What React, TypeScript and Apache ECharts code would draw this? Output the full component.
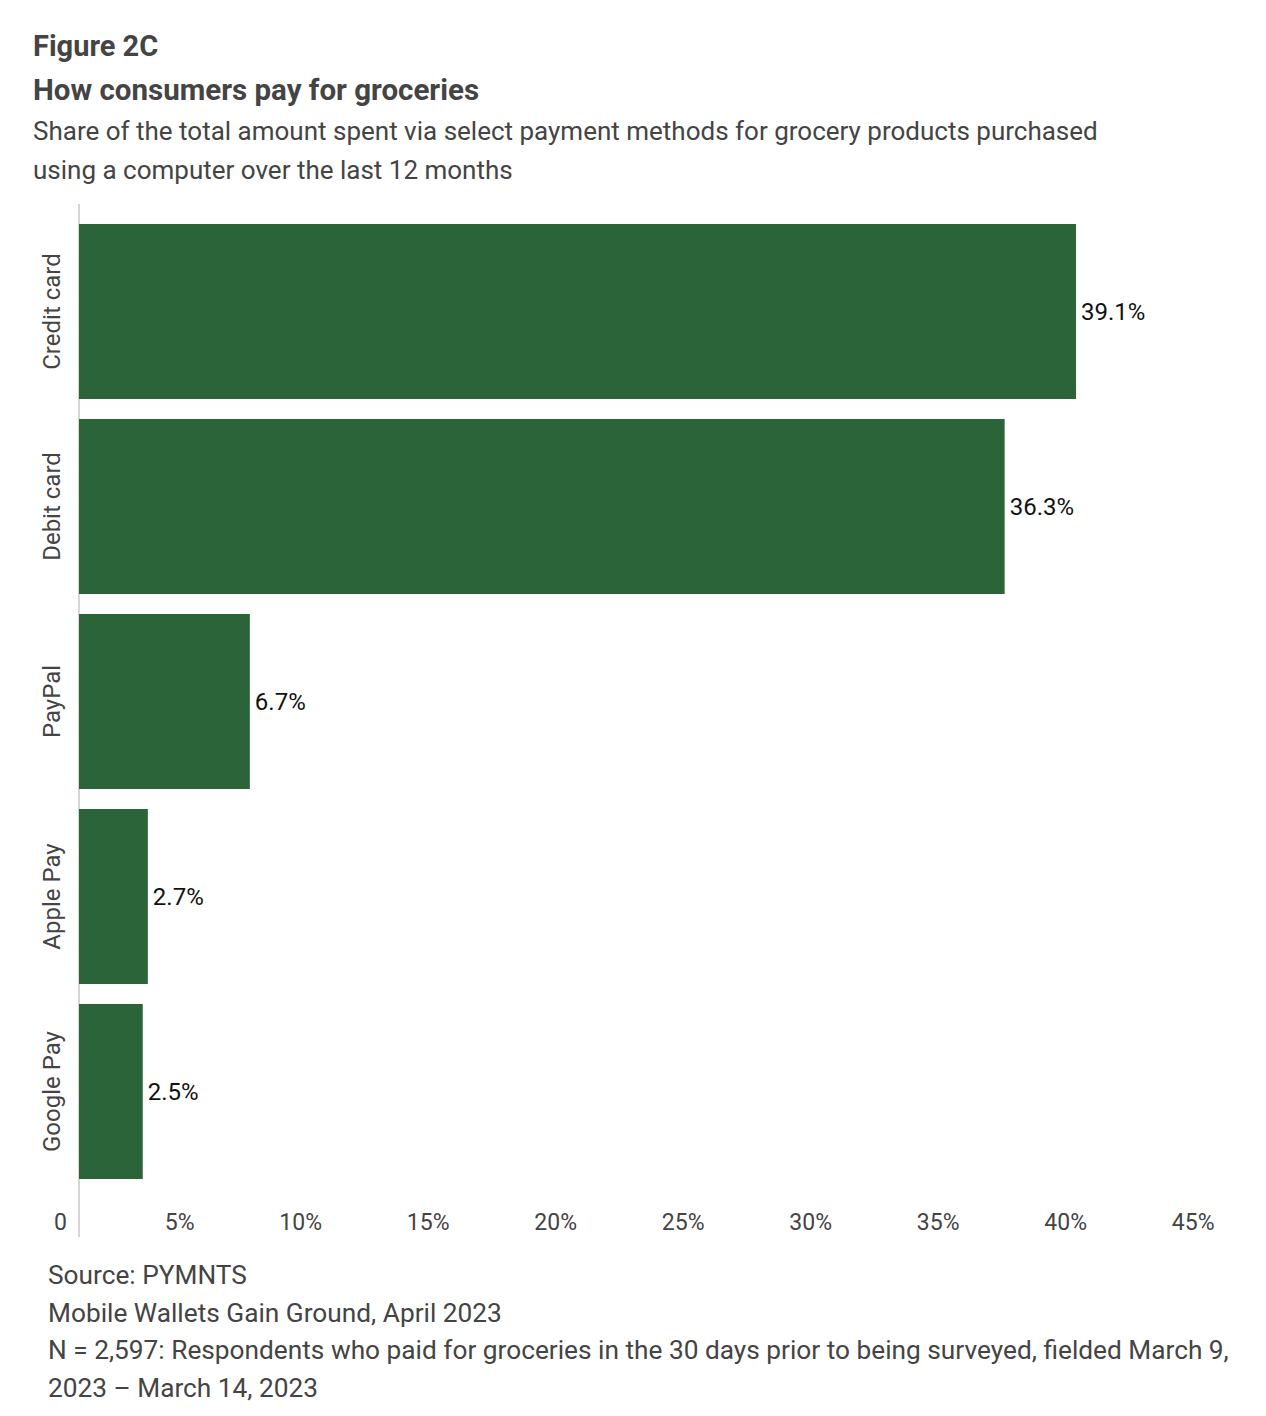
import React, { useEffect, useRef } from "react";
import * as echarts from "echarts";

const categories = ["Credit card", "Debit card", "PayPal", "Apple Pay", "Google Pay"];
const values = [39.1, 36.3, 6.7, 2.7, 2.5];
const xTicks = [0, 5, 10, 15, 20, 25, 30, 35, 40, 45];
const titleLines = ["Figure 2C", "How consumers pay for groceries"];
const subtitleLines = [
  "Share of the total amount spent via select payment methods for grocery products purchased",
  "using a computer over the last 12 months",
];
const footerLines = [
  "Source: PYMNTS",
  "Mobile Wallets Gain Ground, April 2023",
  "N = 2,597: Respondents who paid for groceries in the 30 days prior to being surveyed, fielded March 9,",
  "2023 – March 14, 2023",
];

const FONT = "Roboto, 'Noto Sans', sans-serif";
const GRAY = "#444444";

export default function App() {
  const ref = useRef<HTMLDivElement>(null);
  useEffect(() => {
    document.body.style.margin = "0";
    if (!ref.current) return;
    const chart = echarts.init(ref.current, undefined, { renderer: "svg" });
    const graphics: any[] = [];
    const txt = (t: string, x: number, y: number, font: string) => ({
      type: "text", x, y,
      style: { text: t, font, fill: GRAY, textAlign: "left", textVerticalAlign: "middle" },
    });
    graphics.push(txt(titleLines[0], 33, 46, `bold 29px ${FONT}`));
    graphics.push(txt(titleLines[1], 33, 90, `bold 29.5px ${FONT}`));
    subtitleLines.forEach((t, i) => graphics.push(txt(t, 33, 131 + i * 39, `26px ${FONT}`)));
    footerLines.forEach((t, i) => graphics.push(txt(t, 48, 1275 + i * 37.5, `26.25px ${FONT}`)));
    graphics.push({
      type: "line",
      shape: { x1: 79, y1: 204, x2: 79, y2: 1237 },
      style: { stroke: "#d6d6d6", lineWidth: 2 },
    });
    chart.setOption({
      animation: false,
      backgroundColor: "#ffffff",
      grid: { left: 79, top: 214, width: 1147.5, height: 975, containLabel: false },
      xAxis: {
        type: "value",
        min: xTicks[0],
        max: xTicks[xTicks.length - 1],
        interval: xTicks[1] - xTicks[0],
        axisLine: { show: false },
        axisTick: { show: false },
        splitLine: { show: false },
        axisLabel: {
          color: GRAY,
          fontFamily: FONT,
          fontSize: 23,
          align: "right",
          padding: [0, 12, 0, 0],
          margin: 22,
          formatter: (v: number) => (v === 0 ? "0" : `${v}%`),
        },
      },
      yAxis: {
        type: "category",
        data: categories,
        inverse: true,
        axisLine: { show: false },
        axisTick: { show: false },
        axisLabel: {
          rotate: 90,
          color: GRAY,
          fontFamily: FONT,
          fontSize: 24,
          margin: 15,
        },
      },
      series: [
        {
          type: "bar",
          data: values,
          barWidth: 175,
          itemStyle: { color: "#2b6438" },
          label: {
            show: true,
            position: "right",
            distance: 5,
            color: "#111111",
            fontFamily: FONT,
            fontSize: 24,
            formatter: (p: any) => `${p.value.toFixed(1)}%`,
          },
        },
      ],
      graphic: graphics,
    });
    return () => chart.dispose();
  }, []);
  return <div ref={ref} style={{ width: 1266, height: 1416 }} />;
}
